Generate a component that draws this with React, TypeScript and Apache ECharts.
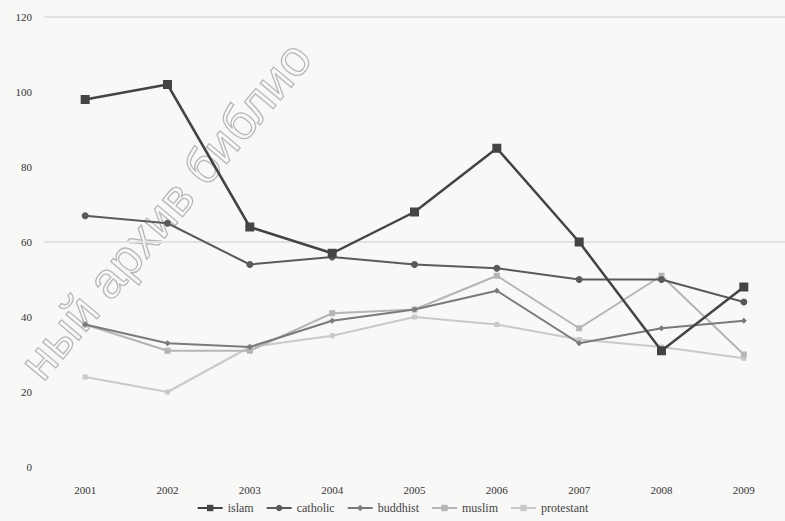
import React, { useEffect, useRef } from "react";
import * as echarts from "echarts";

const years = ["2001", "2002", "2003", "2004", "2005", "2006", "2007", "2008", "2009"];
const islam = [98, 102, 64, 57, 68, 85, 60, 31, 48];
const catholic = [67, 65, 54, 56, 54, 53, 50, 50, 44];
const buddhist = [38, 33, 32, 39, 42, 47, 33, 37, 39];
const muslim = [38, 31, 31, 41, 42, 51, 37, 51, 30];
const protestant = [24, 20, 32, 35, 40, 38, 34, 32, 29];
const seriesNames = ["islam", "catholic", "buddhist", "muslim", "protestant"];
const watermark = "ный архив библио";

export default function App() {
  const ref = useRef<HTMLDivElement>(null);
  useEffect(() => {
    document.body.style.margin = "0";
    const chart = echarts.init(ref.current!, null, { renderer: "svg" });
    const font = "'Liberation Serif', 'DejaVu Serif', serif";
    const mk = (
      name: string,
      data: number[],
      color: string,
      symbol: string,
      symbolSize: number,
      width: number,
      z: number
    ) => ({
      name,
      type: "line",
      data,
      symbol,
      symbolSize,
      showSymbol: symbol !== "none",
      z,
      lineStyle: { color, width },
      itemStyle: { color },
    });
    chart.setOption({
      animation: false,
      backgroundColor: "#f8f8f7",
      textStyle: { fontFamily: font },
      grid: { left: 44, top: 17, width: 750, height: 450 },
      graphic: [
        {
          type: "text",
          x: 30,
          y: 372,
          rotation: (50 * Math.PI) / 180,
          z: 0,
          silent: true,
          style: {
            text: watermark,
            font: "50px 'Liberation Sans', Arial, sans-serif",
            fill: "rgba(255,255,255,0)",
            stroke: "#b8b8b8",
            lineWidth: 1.3,
            textVerticalAlign: "middle",
          },
        },
      ],
      legend: {
        bottom: 2,
        left: "center",
        itemWidth: 25,
        itemHeight: 8,
        itemGap: 12,
        data: seriesNames,
        textStyle: { color: "#444", fontSize: 12, fontFamily: font },
      },
      xAxis: {
        type: "category",
        data: years,
        boundaryGap: true,
        axisLine: { show: false },
        axisTick: { show: false },
        axisLabel: { color: "#333", fontSize: 11, margin: 17, fontFamily: font },
      },
      yAxis: {
        type: "value",
        min: 0,
        max: 120,
        interval: 20,
        axisLine: { show: false },
        axisTick: { show: false },
        axisLabel: { color: "#333", fontSize: 11, margin: 12, fontFamily: font },
        splitLine: {
          lineStyle: {
            color: [
              "rgba(0,0,0,0)",
              "rgba(0,0,0,0)",
              "rgba(0,0,0,0)",
              "#e2e2e2",
              "rgba(0,0,0,0)",
              "rgba(0,0,0,0)",
              "#e2e2e2",
            ],
            width: 2,
          },
        },
      },
      series: [
        mk("protestant", protestant, "#c9c9c9", "rect", 5, 2, 2),
        mk("muslim", muslim, "#b5b5b5", "rect", 6, 2, 3),
        mk("buddhist", buddhist, "#7a7a7a", "diamond", 6, 2, 4),
        mk("catholic", catholic, "#5a5a5a", "circle", 7, 2, 5),
        mk("islam", islam, "#444444", "rect", 9, 2.5, 6),
      ],
    });
    return () => chart.dispose();
  }, []);
  return <div ref={ref} style={{ width: 785, height: 521 }} />;
}
